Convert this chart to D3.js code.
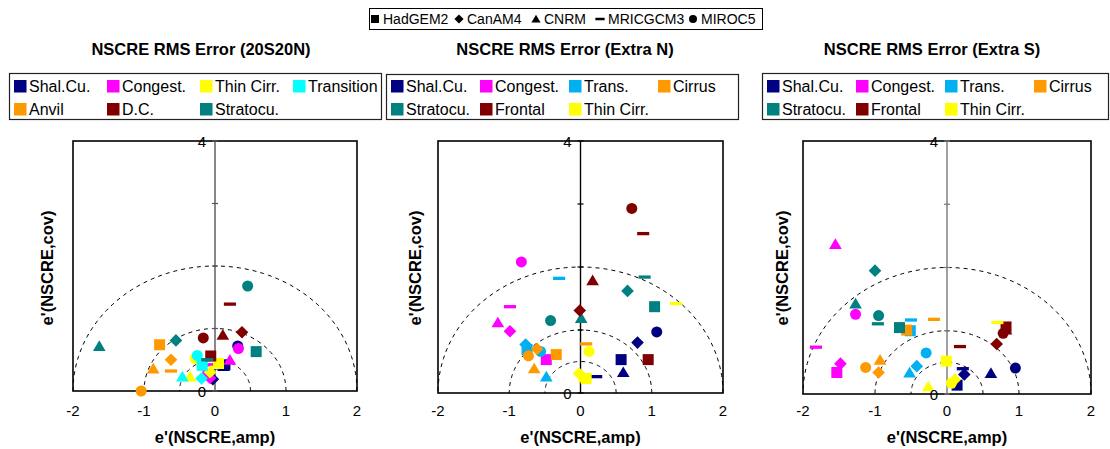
<!DOCTYPE html>
<html><head><meta charset="utf-8">
<script src="https://cdn.jsdelivr.net/npm/d3@7"></script>
<style>
html,body{margin:0;padding:0;background:#fff;}
svg{display:block;font-family:Arial,"Liberation Sans",sans-serif;}
</style></head>
<body>
<svg id="chart" width="1110" height="449"></svg>
<script>
// ---------- DATA ----------
const models = ["HadGEM2", "CanAM4", "CNRM", "MRICGCM3", "MIROC5"];
const cats20S20N = ["Shal.Cu.", "Congest.", "Thin Cirr.", "Transition", "Anvil", "D.C.", "Stratocu."];
const catsExtra = ["Shal.Cu.", "Congest.", "Trans.", "Cirrus", "Stratocu.", "Frontal", "Thin Cirr."];
const panelTitles = ["NSCRE RMS Error (20S20N)", "NSCRE RMS Error (Extra N)", "NSCRE RMS Error (Extra S)"];
const xTickValues = [-2, -1, 0, 1, 2];
const yTickLabelValues = [0, 4];
const yMinorTicks = [0, 1, 2, 3, 4];
const arcRadii = [0.5, 1, 2];
const xLabel = "e'(NSCRE,amp)";
const yLabel = "e'(NSCRE,cov)";

// [category, model, e'(amp), e'(cov)]
const pts20S20N = [
  ["Shal.Cu.","HadGEM2",0.14,0.42],["Shal.Cu.","CanAM4",-0.03,0.19],["Shal.Cu.","CNRM",0.12,0.40],["Shal.Cu.","MRICGCM3",0.07,0.37],["Shal.Cu.","MIROC5",0.32,0.72],
  ["Congest.","HadGEM2",-0.10,0.26],["Congest.","CanAM4",-0.07,0.21],["Congest.","CNRM",0.21,0.50],["Congest.","MRICGCM3",-0.07,0.42],["Congest.","MIROC5",0.33,0.68],
  ["Thin Cirr.","HadGEM2",0.05,0.44],["Thin Cirr.","CanAM4",-0.07,0.30],["Thin Cirr.","CNRM",-0.35,0.23],["Thin Cirr.","MRICGCM3",0.02,0.38],["Thin Cirr.","MIROC5",-0.28,0.52],
  ["Transition","HadGEM2",-0.18,0.41],["Transition","CanAM4",-0.19,0.20],["Transition","CNRM",-0.46,0.23],["Transition","MRICGCM3",-0.15,0.50],["Transition","MIROC5",-0.25,0.57],
  ["Anvil","HadGEM2",-0.78,0.74],["Anvil","CanAM4",-0.62,0.50],["Anvil","CNRM",-0.87,0.36],["Anvil","MRICGCM3",-0.62,0.32],["Anvil","MIROC5",-1.04,0.00],
  ["D.C.","HadGEM2",-0.06,0.56],["D.C.","CanAM4",0.38,0.94],["D.C.","CNRM",0.11,0.90],["D.C.","MRICGCM3",0.21,1.39],["D.C.","MIROC5",-0.165,0.85],
  ["Stratocu.","HadGEM2",0.58,0.63],["Stratocu.","CanAM4",-0.55,0.81],["Stratocu.","CNRM",-1.63,0.72],["Stratocu.","MRICGCM3",-0.11,0.50],["Stratocu.","MIROC5",0.46,1.68]
];
const ptsExtraN = [
  ["Shal.Cu.","HadGEM2",0.57,0.53],["Shal.Cu.","CanAM4",0.80,0.80],["Shal.Cu.","CNRM",0.60,0.33],["Shal.Cu.","MRICGCM3",0.22,0.26],["Shal.Cu.","MIROC5",1.07,0.97],
  ["Congest.","HadGEM2",-0.48,0.53],["Congest.","CanAM4",-0.99,0.98],["Congest.","CNRM",-1.16,1.12],["Congest.","MRICGCM3",-0.99,1.37],["Congest.","MIROC5",-0.83,2.08],
  ["Trans.","HadGEM2",-0.75,0.69],["Trans.","CanAM4",-0.77,0.77],["Trans.","CNRM",-0.48,0.26],["Trans.","MRICGCM3",-0.30,1.82],["Trans.","MIROC5",-0.56,0.66],
  ["Cirrus","HadGEM2",-0.34,0.61],["Cirrus","CanAM4",-0.61,0.70],["Cirrus","CNRM",-0.65,0.39],["Cirrus","MRICGCM3",0.08,0.78],["Cirrus","MIROC5",-0.73,0.59],
  ["Stratocu.","HadGEM2",1.04,1.37],["Stratocu.","CanAM4",0.66,1.62],["Stratocu.","CNRM",0.01,1.19],["Stratocu.","MRICGCM3",0.90,1.84],["Stratocu.","MIROC5",-0.42,1.15],
  ["Frontal","HadGEM2",0.95,0.53],["Frontal","CanAM4",-0.01,1.31],["Frontal","CNRM",0.17,1.79],["Frontal","MRICGCM3",0.88,2.53],["Frontal","MIROC5",0.72,2.93],
  ["Thin Cirr.","HadGEM2",0.08,0.23],["Thin Cirr.","CanAM4",-0.02,0.31],["Thin Cirr.","CNRM",0.05,0.25],["Thin Cirr.","MRICGCM3",1.34,1.42],["Thin Cirr.","MIROC5",0.12,0.66]
];
const ptsExtraS = [
  ["Shal.Cu.","HadGEM2",0.14,0.14],["Shal.Cu.","CanAM4",0.24,0.31],["Shal.Cu.","CNRM",0.61,0.33],["Shal.Cu.","MRICGCM3",0.22,0.40],["Shal.Cu.","MIROC5",0.95,0.41],
  ["Congest.","HadGEM2",-1.53,0.34],["Congest.","CanAM4",-1.48,0.48],["Congest.","CNRM",-1.55,2.37],["Congest.","MRICGCM3",-1.82,0.74],["Congest.","MIROC5",-1.27,1.26],
  ["Trans.","HadGEM2",-0.51,1.00],["Trans.","CanAM4",-0.42,0.44],["Trans.","CNRM",-0.52,0.34],["Trans.","MRICGCM3",-0.50,1.17],["Trans.","MIROC5",-0.29,0.65],
  ["Cirrus","HadGEM2",-0.56,1.01],["Cirrus","CanAM4",-0.95,0.34],["Cirrus","CNRM",-0.93,0.54],["Cirrus","MRICGCM3",-0.18,1.18],["Cirrus","MIROC5",-1.13,0.42],
  ["Stratocu.","HadGEM2",-0.66,1.05],["Stratocu.","CanAM4",-1.00,1.95],["Stratocu.","CNRM",-1.27,1.43],["Stratocu.","MRICGCM3",-0.96,1.11],["Stratocu.","MIROC5",-0.95,1.24],
  ["Frontal","HadGEM2",0.82,1.06],["Frontal","CanAM4",0.69,0.79],["Frontal","CNRM",0.82,1.02],["Frontal","MRICGCM3",0.18,0.75],["Frontal","MIROC5",0.78,0.96],
  ["Thin Cirr.","HadGEM2",-0.01,0.52],["Thin Cirr.","CanAM4",0.11,0.23],["Thin Cirr.","CNRM",-0.26,0.12],["Thin Cirr.","MRICGCM3",0.70,1.13],["Thin Cirr.","MIROC5",0.06,0.17]
];

// ---------- STYLE / LAYOUT ----------
const catColor = {
  "Shal.Cu.":"#000080","Congest.":"#FF00FF","Thin Cirr.":"#FFFF00","Transition":"#00FFFF",
  "Anvil":"#FF9900","D.C.":"#800000","Stratocu.":"#008080","Trans.":"#00B0F0",
  "Cirrus":"#FF9900","Frontal":"#800000"
};
const modelShape = {"HadGEM2":"square","CanAM4":"diamond","CNRM":"triangle","MRICGCM3":"dash","MIROC5":"circle"};

const panels = [
  {title:panelTitles[0], cats:cats20S20N, pts:pts20S20N, L:73, R:357, T:141, B:391, titleX:201,
   leg:{x:9,y:73,w:372,h:46,cols:[14,107,200,293]}, yLabX:47, axisCol:"#555"},
  {title:panelTitles[1], cats:catsExtra, pts:ptsExtraN, L:438, R:723, T:141, B:393, titleX:565,
   leg:{x:386,y:74,w:352,h:45,cols:[391,480,569,658]}, yLabX:415, axisCol:"#000"},
  {title:panelTitles[2], cats:catsExtra, pts:ptsExtraS, L:803, R:1091, T:141, B:394, titleX:932,
   leg:{x:762,y:73,w:346,h:46,cols:[767,856,945,1034]}, yLabX:782, axisCol:"#777"}
];

function shapePath(shape, s){
  switch(shape){
    case "square": return `M${-s},${-s}H${s}V${s}H${-s}Z`;
    case "diamond": { const d=s*1.15; return `M0,${-d}L${d},0L0,${d}L${-d},0Z`; }
    case "triangle": { const w=s*1.15, h=s*1.05; return `M0,${-h}L${w},${h*0.85}L${-w},${h*0.85}Z`; }
    case "dash": { const w=s*1.1, h=s*0.3; return `M${-w},${-h}H${w}V${h}H${-w}Z`; }
    case "circle": return d3.symbol(d3.symbolCircle, Math.PI*s*s)();
  }
}

const svg = d3.select("#chart");

// ---------- TOP LEGEND (models) ----------
const topLeg = svg.append("g");
topLeg.append("rect").attr("x",369.5).attr("y",8.5).attr("width",393).attr("height",21)
  .attr("fill","#fff").attr("stroke","#000").attr("stroke-width",1);
const topX = [375, 459, 536, 600, 693];
models.forEach((m,i)=>{
  const g = topLeg.append("g").attr("transform",`translate(${topX[i]},19)`);
  g.append("path").attr("d", shapePath(modelShape[m], modelShape[m]==="dash"?4.2:4)).attr("fill","#000");
  g.append("text").attr("x",8).attr("y",5).attr("font-size",14).attr("fill","#000").text(m);
});

// ---------- PANELS ----------
panels.forEach(p=>{
  const x = d3.scaleLinear().domain([-2,2]).range([p.L,p.R]);
  const y = d3.scaleLinear().domain([0,4]).range([p.B,p.T]);
  const g = svg.append("g");

  g.append("text").attr("x",p.titleX).attr("y",55).attr("text-anchor","middle")
    .attr("font-size",16.5).attr("font-weight","bold").text(p.title);

  const lg = g.append("g");
  lg.append("rect").attr("x",p.leg.x+0.5).attr("y",p.leg.y+0.5).attr("width",p.leg.w).attr("height",p.leg.h)
    .attr("fill","#fff").attr("stroke","#222").attr("stroke-width",1.2);
  const rowsY = [86, 109];
  p.cats.forEach((c,i)=>{
    const row = i<4?0:1, col = i<4?i:i-4;
    const sx = p.leg.cols[col];
    lg.append("rect").attr("x",sx).attr("y",rowsY[row]-6).attr("width",12.5).attr("height",12.5).attr("fill",catColor[c]);
    lg.append("text").attr("x",sx+15).attr("y",rowsY[row]+6).attr("font-size",16).attr("fill","#000").text(c);
  });

  g.append("rect").attr("x",p.L).attr("y",p.T).attr("width",p.R-p.L).attr("height",p.B-p.T)
    .attr("fill","none").attr("stroke","#000").attr("stroke-width",1.6);

  const arc = d3.line().x(d=>x(d[0])).y(d=>y(d[1]));
  arcRadii.forEach(r=>{
    const ptsArc = d3.range(0,181,2).map(a=>[r*Math.cos(a*Math.PI/180), r*Math.sin(a*Math.PI/180)]);
    g.append("path").attr("d",arc(ptsArc)).attr("fill","none").attr("stroke","#000")
      .attr("stroke-width",1).attr("stroke-dasharray","4,4");
  });

  g.append("line").attr("x1",x(0)).attr("x2",x(0)).attr("y1",y(0)).attr("y2",y(4))
    .attr("stroke",p.axisCol).attr("stroke-width",1.4);
  yMinorTicks.forEach(v=>{
    g.append("line").attr("x1",x(0)-3).attr("x2",x(0)+3).attr("y1",y(v)).attr("y2",y(v))
      .attr("stroke",p.axisCol).attr("stroke-width",1.2);
  });

  p.pts.forEach(d=>{
    const shape = modelShape[d[1]];
    g.append("path").attr("transform",`translate(${x(d[2])},${y(d[3])})`)
      .attr("d",shapePath(shape, 5.5))
      .attr("fill",catColor[d[0]]);
  });

  yTickLabelValues.forEach(v=>{
    g.append("text").attr("x",x(0)-9).attr("y",y(v)+5.5).attr("text-anchor","end")
      .attr("font-size",15).attr("fill","#000").text(v);
  });

  xTickValues.forEach(v=>{
    g.append("text").attr("x",x(v)).attr("y",416).attr("text-anchor","middle")
      .attr("font-size",15).attr("fill","#000").text(v);
  });

  g.append("text").attr("x",x(0)).attr("y",443).attr("text-anchor","middle")
    .attr("font-size",16.5).attr("font-weight","bold").text(xLabel);
  g.append("text").attr("transform",`translate(${p.yLabX+6},268) rotate(-90)`).attr("text-anchor","middle")
    .attr("font-size",16.5).attr("font-weight","bold").text(yLabel);
});
</script>
</body></html>
